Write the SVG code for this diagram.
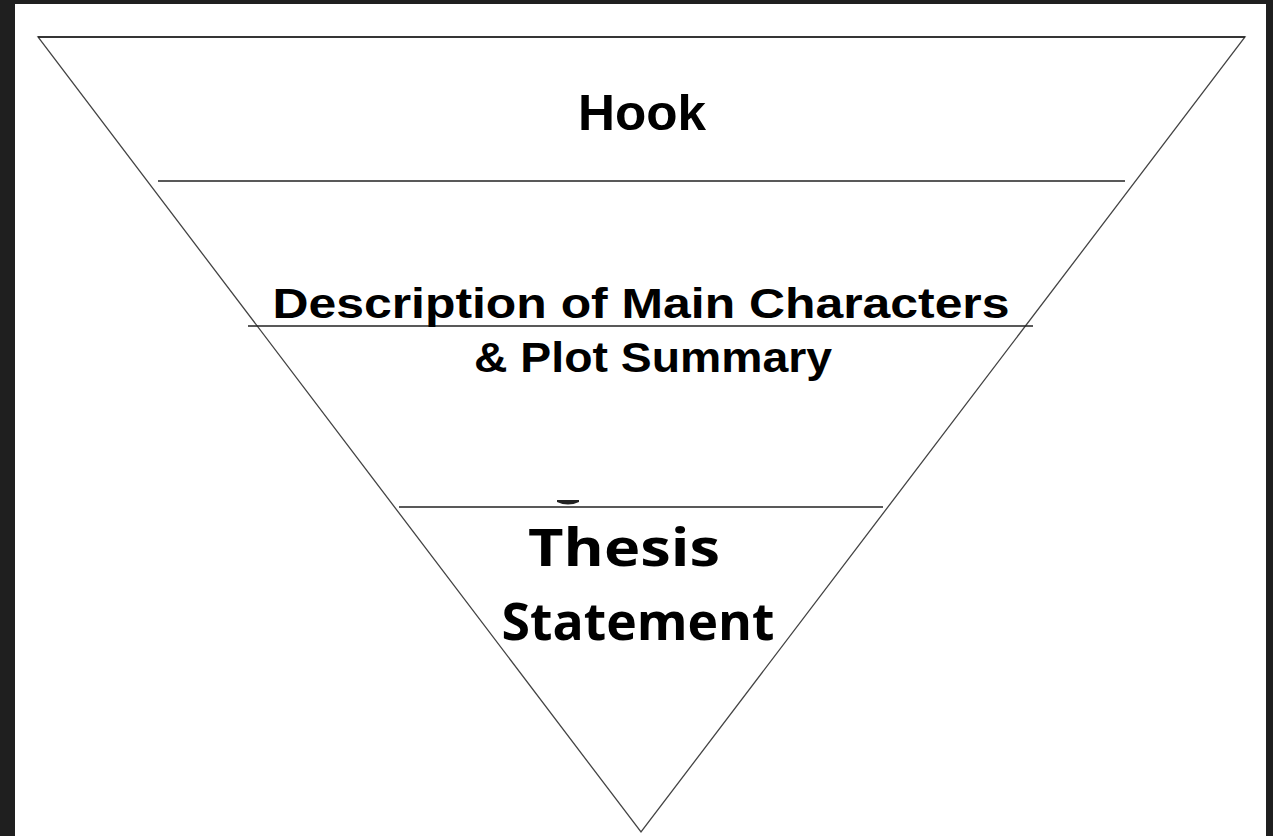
<svg xmlns="http://www.w3.org/2000/svg" width="1273" height="836" viewBox="0 0 1273 836">
<style>
.frame{fill:#1f1f1f}
.edge{stroke:#444;stroke-width:1.3;fill:none}
.bar{stroke:#222;stroke-width:1.6}
.t1{font-family:"Liberation Sans",Arial,sans-serif;font-weight:bold;fill:#000;text-anchor:middle}
.t2{font-family:"Open Sans","Liberation Sans",sans-serif;font-weight:bold;fill:#000;text-anchor:middle}
</style>
<rect x="0" y="0" width="1273" height="836" class="frame"/>
<rect x="15" y="4" width="1251" height="832" fill="#fff"/>
<g id="funnel">
<polygon points="38,37 1245,37 641,832" class="edge"/>
<line x1="38" y1="37" x2="1245" y2="37" class="bar"/>
</g>
<g id="dividers">
<line x1="158" y1="181" x2="1125" y2="181" class="bar"/>
<line x1="248" y1="326" x2="1033" y2="326" class="bar"/>
<line x1="399" y1="507" x2="883" y2="507" class="bar"/>
</g>
<g id="hook">
<text x="642" y="130" class="t1" font-size="50" textLength="128" lengthAdjust="spacingAndGlyphs">Hook</text>
</g>
<g id="description">
<text x="641" y="318" class="t1" font-size="42" textLength="737" lengthAdjust="spacingAndGlyphs">Description of Main Characters</text>
<text x="653" y="372" class="t1" font-size="42" textLength="358" lengthAdjust="spacingAndGlyphs">&amp; Plot Summary</text>
</g>
<g id="thesis">
<path d="M557,500 L579,500 L579,502 Q568,507 557,502 Z" fill="#222"/>
<text x="624" y="566" class="t2" font-size="52" textLength="192" lengthAdjust="spacingAndGlyphs">Thesis</text>
<text x="638" y="640" class="t2" font-size="52" textLength="273" lengthAdjust="spacingAndGlyphs">Statement</text>
</g>
</svg>
